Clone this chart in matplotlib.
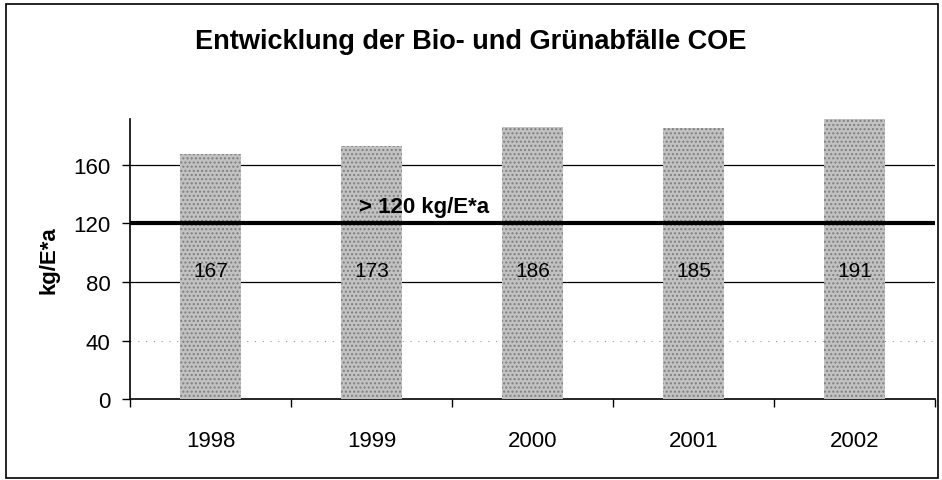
import matplotlib
matplotlib.use("Agg")
import matplotlib.pyplot as plt
from matplotlib.patches import Rectangle

plt.rcParams['font.family'] = ['Liberation Sans', 'DejaVu Sans']

years = ['1998', '1999', '2000', '2001', '2002']
werte = [167, 173, 186, 185, 191]
ziel = 120
ziel_text = '> 120 kg/E*a'
titel = 'Entwicklung der Bio- und Grünabfälle COE'

fig = plt.figure(figsize=(9.42, 4.81), dpi=100)
fig.patches.append(Rectangle((0.006, 0.004), 0.99, 0.985, transform=fig.transFigure,
                             fill=False, edgecolor='black', linewidth=1.2))
ax = fig.add_axes([0.138, 0.168, 0.855, 0.582])

x = range(len(years))
bars = ax.bar(x, werte, width=0.38, color='#c2c2c2', edgecolor='#7f7f7f',
              hatch='....', linewidth=0, zorder=3)

# grid lines
for yv in [80, 160]:
    ax.axhline(yv, color='black', linewidth=0.9, zorder=1)
ax.axhline(40, color='#999999', linewidth=0.8, linestyle=(0, (1, 6)), zorder=1)

# target line
ax.axhline(ziel, color='black', linewidth=3, zorder=4)
ax.text(0.92, ziel + 4, ziel_text, fontsize=16, fontweight='bold', va='bottom', ha='left', zorder=5)

for i, v in enumerate(werte):
    ax.text(i, 88, str(v), ha='center', va='center', fontsize=15, zorder=5)

ax.set_xlim(-0.5, len(years) - 0.5)
ax.set_ylim(0, 191)
ax.set_yticks([0, 40, 80, 120, 160])
ax.tick_params(axis='y', labelsize=16, length=6, width=1, pad=8)
ax.set_xticks(list(x))
ax.set_xticklabels(years, fontsize=16)
ax.tick_params(axis='x', length=0, pad=22)
ax.set_xticks([i - 0.5 for i in range(len(years) + 1)], minor=True)
ax.tick_params(axis='x', which='minor', length=6, width=1)

ax.spines['top'].set_visible(False)
ax.spines['right'].set_visible(False)
ax.spines['left'].set_linewidth(1.2)
ax.spines['bottom'].set_linewidth(1.2)

ax.set_ylabel('kg/E*a', fontsize=16, fontweight='bold', labelpad=10)
fig.text(0.5, 0.913, titel, ha='center', va='center', fontsize=19.5, fontweight='bold')

fig.savefig('out.png', dpi=100)
